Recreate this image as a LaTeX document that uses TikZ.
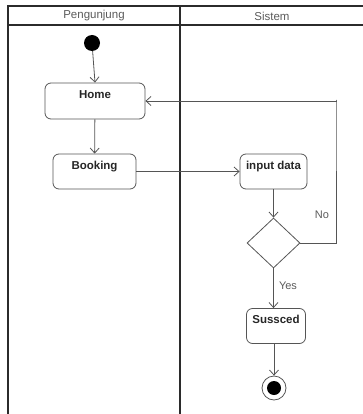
\documentclass[tikz,border=0pt]{standalone}
\usepackage{fontspec}
\setmainfont{Liberation Sans}
\usetikzlibrary{arrows.meta,shapes.geometric}
\definecolor{lanegray}{HTML}{2B2B2B}
\definecolor{linegray}{HTML}{555555}
\definecolor{textgray}{HTML}{5A5A5A}
\begin{document}
\begin{tikzpicture}[x=1pt,y=1pt,
        lane/.style={draw=lanegray, line width=1.8pt},
        act/.style={draw=linegray, line width=0.8pt, rounded corners=6pt, inner xsep=2pt, inner ysep=4pt,
          text height=11pt, text depth=16pt, font=\fontsize{11.5}{13}\selectfont\bfseries, text=black!85},
        flow/.style={draw=linegray, line width=0.8pt, -{Straight Barb[length=5pt,width=9pt]}},
        lbl/.style={text=textgray, font=\fontsize{11}{13}\selectfont}]
        \useasboundingbox (0,0) rectangle (362,-414);
        % swimlanes
        \draw [lane] (8,-414) -- (8,-6) -- (364,-6);
        \draw [lane] (8,-25) -- (364,-25);
        \draw [lane] (180,-6) -- (180,-414);
        \node [lbl, font=\fontsize{11.5}{13}\selectfont] (pengunjung) at (94,-16) {Pengunjung};
        \node [lbl, font=\fontsize{11.5}{13}\selectfont] (sistem) at (272,-16) {Sistem};
        % nodes
        \node [circle, fill=black, minimum size=16pt, inner sep=0pt] (start) at (92,-43) {};
        \node [act, minimum width=100pt, text height=12pt, text depth=16pt] (home) at (95,-101) {Home};
        \node [act, minimum width=83pt] (booking) at (94.5,-171.5) {Booking};
        \node [act, minimum width=67pt] (input) at (273.5,-171.5) {input data};
        \node [diamond, draw=linegray, line width=0.8pt, minimum width=53pt, minimum height=50pt, inner sep=0pt] (decide) at (273.5,-243) {};
        \node [act, minimum width=59pt] (sukses) at (276,-326) {Sussced};
        \node [circle, draw=linegray, line width=0.8pt, fill=white, minimum size=24pt, inner sep=0pt] (finish) at (274,-388) {};
        \node [circle, fill=black, minimum size=14pt, inner sep=0pt] (finishdot) at (finish) {};
        \coordinate (loop) at (336,-100);
        % flows
        \draw [flow] (start) -- (home.north);
        \draw [flow] (home) -- (booking);
        \draw [flow] (booking) -- (input);
        \draw [flow] (input) -- (decide);
        \draw [flow] (decide.east) -| (loop) |- (home.east);
        \draw [flow] (decide.south) -- (decide.south |- sukses.north);
        \draw [flow] (sukses.south -| finish) -- (finish);
        \node [lbl] (no) at (322,-215) {No};
        \node [lbl] (yes) at (288,-286) {Yes};
\end{tikzpicture}
\end{document}
